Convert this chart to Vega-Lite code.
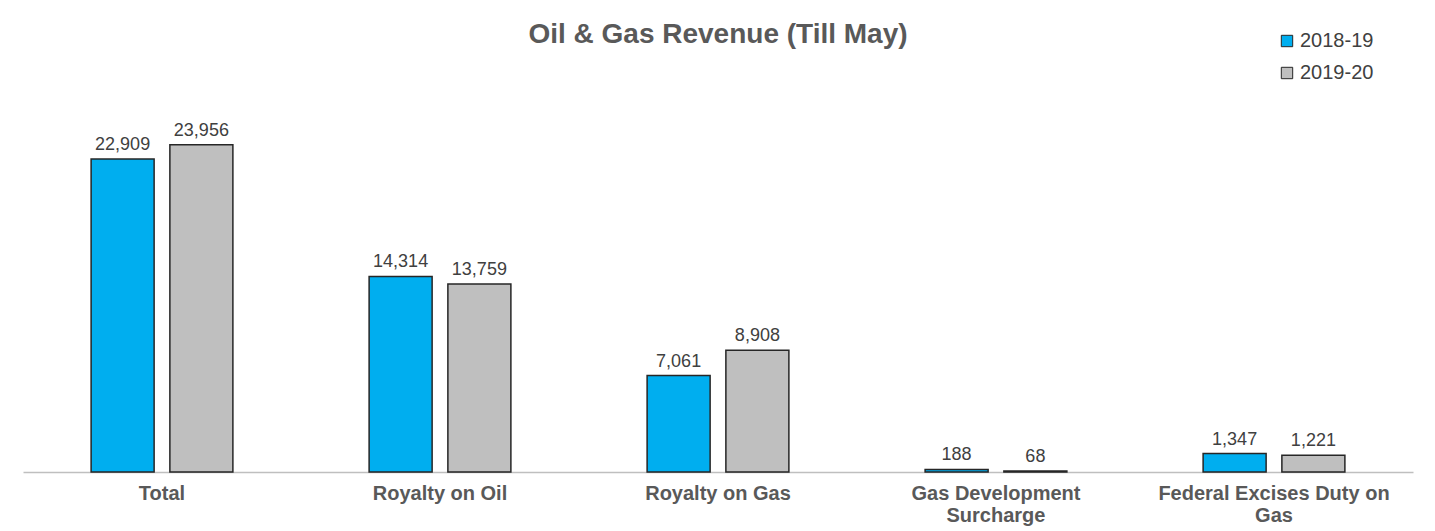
{
  "$schema": "https://vega.github.io/schema/vega-lite/v6.json",
  "autosize": "none",
  "width": 1390,
  "height": 412,
  "padding": {"left": 23, "top": 60, "right": 22, "bottom": 59},
  "background": "white",
  "title": {
    "text": "Oil & Gas Revenue (Till May)",
    "font": "Liberation Sans",
    "fontSize": 28,
    "fontWeight": "bold",
    "color": "#595959",
    "anchor": "middle",
    "offset": -18
  },
  "config": {"view": {"stroke": null}},
  "data": {
    "values": [
      {"category": "Total", "year": "2018-19", "value": 22909},
      {"category": "Total", "year": "2019-20", "value": 23956},
      {"category": "Royalty on Oil", "year": "2018-19", "value": 14314},
      {"category": "Royalty on Oil", "year": "2019-20", "value": 13759},
      {"category": "Royalty on Gas", "year": "2018-19", "value": 7061},
      {"category": "Royalty on Gas", "year": "2019-20", "value": 8908},
      {"category": "Gas Development Surcharge", "year": "2018-19", "value": 188},
      {"category": "Gas Development Surcharge", "year": "2019-20", "value": 68},
      {"category": "Federal Excises Duty on Gas", "year": "2018-19", "value": 1347},
      {"category": "Federal Excises Duty on Gas", "year": "2019-20", "value": 1221}
    ]
  },
  "encoding": {
    "x": {
      "field": "category",
      "type": "nominal",
      "sort": null,
      "scale": {"paddingInner": 0.49, "paddingOuter": 0.245},
      "axis": {
        "title": null,
        "labelAngle": 0,
        "labelFont": "Liberation Sans",
        "labelFontSize": 20,
        "labelFontWeight": "bold",
        "labelColor": "#595959",
        "labelPadding": 11,
        "labelLineHeight": 22,
        "labelLimit": 0,
        "ticks": false,
        "domainColor": "#bfbfbf",
        "domainWidth": 1.5,
        "labelExpr": "datum.label == 'Gas Development Surcharge' ? ['Gas Development', 'Surcharge'] : datum.label == 'Federal Excises Duty on Gas' ? ['Federal Excises Duty on', 'Gas'] : datum.label"
      }
    },
    "xOffset": {
      "field": "year",
      "type": "nominal",
      "scale": {"paddingInner": 0.2, "paddingOuter": 0}
    },
    "y": {
      "field": "value",
      "type": "quantitative",
      "scale": {"domain": [0, 30150], "nice": false},
      "axis": null
    }
  },
  "layer": [
    {
      "mark": {"type": "bar", "stroke": "#262626", "strokeWidth": 1.5},
      "encoding": {
        "color": {
          "field": "year",
          "type": "nominal",
          "scale": {"domain": ["2018-19", "2019-20"], "range": ["#00AEEF", "#BFBFBF"]},
          "legend": {
            "title": null,
            "orient": "none",
            "legendX": 1254,
            "legendY": -29,
            "symbolType": "square",
            "symbolSize": 130,
            "symbolStrokeColor": "#262626",
            "symbolStrokeWidth": 1,
            "labelFont": "Liberation Sans",
            "labelFontSize": 20,
            "labelColor": "#404040",
            "labelOffset": 3,
            "rowPadding": 12
          }
        }
      }
    },
    {
      "mark": {"type": "text", "dy": -14, "font": "Liberation Sans", "fontSize": 18, "color": "#404040"},
      "encoding": {
        "text": {"field": "value", "type": "quantitative", "format": ","}
      }
    }
  ]
}
